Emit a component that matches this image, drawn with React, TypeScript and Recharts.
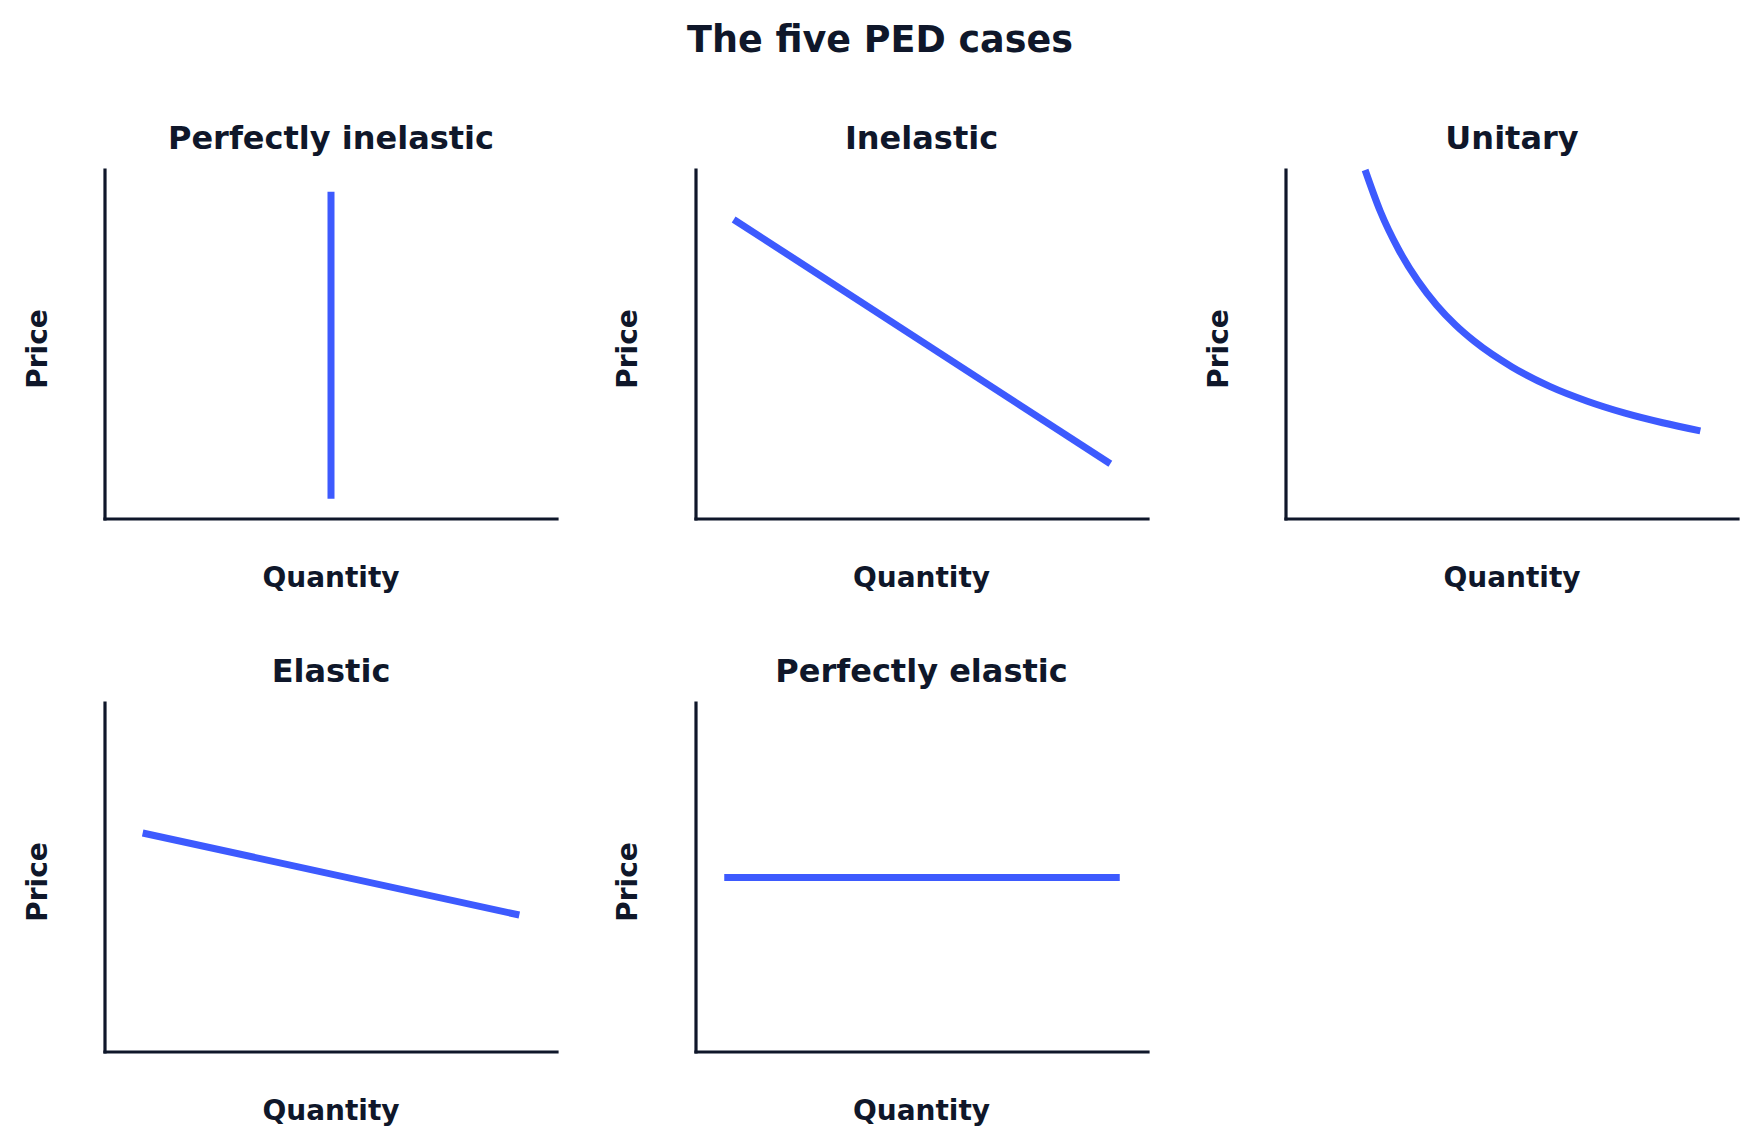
import React from 'react';
import { LineChart, Line, XAxis, YAxis, ReferenceLine } from 'recharts';

// ---- data ----
const chartTitle = 'The five PED cases';
const panelTitles = ['Perfectly inelastic', 'Inelastic', 'Unitary', 'Elastic', 'Perfectly elastic'];
const xAxisLabel = 'Quantity';
const yAxisLabel = 'Price';
const axisDomain: [number, number] = [0, 12];

const perfectlyInelasticQ = [6, 6];
const perfectlyInelasticP = [0.7, 11.25];

const inelasticQ = [1, 11];
const inelasticP = [10.3, 1.9];

const unitaryQ = [2.1, 2.5, 3, 3.5, 4, 4.5, 5, 6, 7, 8, 9, 10, 11];
const unitaryP = [12.0, 10.59, 9.24, 8.19, 7.35, 6.67, 6.11, 5.23, 4.56, 4.05, 3.64, 3.31, 3.03];

const elasticQ = [1, 11];
const elasticP = [7.53, 4.71];

const perfectlyElasticQ = [0.75, 11.25];
const perfectlyElasticP = [6, 6];

const seriesQ = [perfectlyInelasticQ, inelasticQ, unitaryQ, elasticQ, perfectlyElasticQ];
const seriesP = [perfectlyInelasticP, inelasticP, unitaryP, elasticP, perfectlyElasticP];

// ---- layout ----
const W = 1759;
const H = 1148;
const colLeft = [105, 695.5, 1286];
const rowTop = [170, 703];
const plotW = 452;
const plotH = 349;
const PAD = 12;
const INK = '#0f172a';
const BLUE = '#3d5afe';
const FONT = '"DejaVu Sans", Verdana, sans-serif';

function Panel({ idx }: { idx: number }) {
  const col = idx % 3;
  const row = Math.floor(idx / 3);
  const left = colLeft[col];
  const top = rowTop[row];
  const data = seriesQ[idx].map((q, i) => ({ q, p: seriesP[idx][i] }));
  return (
    <div style={{ position: 'absolute', left: left - PAD, top: top - PAD }}>
      <LineChart
        width={plotW + 2 * PAD}
        height={plotH + 2 * PAD}
        data={data}
        margin={{ top: PAD, right: PAD, bottom: PAD, left: PAD }}
      >
        <XAxis type="number" dataKey="q" domain={axisDomain} hide />
        <YAxis type="number" dataKey="p" domain={axisDomain} hide />
        <ReferenceLine x={0} stroke={INK} strokeWidth={3.2} strokeLinecap="square" ifOverflow="visible" />
        <ReferenceLine y={0} stroke={INK} strokeWidth={3.2} strokeLinecap="square" ifOverflow="visible" />
        <Line
          type={idx === 2 ? 'monotone' : 'linear'}
          dataKey="p"
          stroke={BLUE}
          strokeWidth={7}
          dot={false}
          activeDot={false}
          isAnimationActive={false}
        />
      </LineChart>
    </div>
  );
}

export default function App() {
  const labels: React.ReactNode[] = [];
  panelTitles.forEach((t, idx) => {
    const col = idx % 3;
    const row = Math.floor(idx / 3);
    const left = colLeft[col];
    const top = rowTop[row];
    const cx = left + plotW / 2;
    labels.push(
      <text key={`t${idx}`} x={cx} y={top - 21} textAnchor="middle" fontSize={32} fontWeight="bold" fill={INK}>
        {t}
      </text>
    );
    labels.push(
      <text key={`x${idx}`} x={cx} y={top + plotH + 68} textAnchor="middle" fontSize={28} fontWeight="bold" fill={INK}>
        {xAxisLabel}
      </text>
    );
    const px = left - 58.5;
    const py = top + plotH / 2 + 4.5;
    labels.push(
      <text
        key={`y${idx}`}
        x={px}
        y={py}
        textAnchor="middle"
        fontSize={28}
        fontWeight="bold"
        fill={INK}
        transform={`rotate(-90 ${px} ${py})`}
      >
        {yAxisLabel}
      </text>
    );
  });

  return (
    <div
      style={{
        position: 'absolute',
        left: 0,
        top: 0,
        width: W,
        height: H,
        background: '#ffffff',
        fontFamily: FONT,
        overflow: 'hidden',
      }}
    >
      {panelTitles.map((_, idx) => (
        <Panel key={idx} idx={idx} />
      ))}
      <svg
        width={W}
        height={H}
        style={{ position: 'absolute', left: 0, top: 0, pointerEvents: 'none', fontFamily: FONT }}
      >
        <text x={880} y={52} textAnchor="middle" fontSize={36.5} fontWeight="bold" fill={INK}>
          {chartTitle}
        </text>
        {labels}
      </svg>
    </div>
  );
}
